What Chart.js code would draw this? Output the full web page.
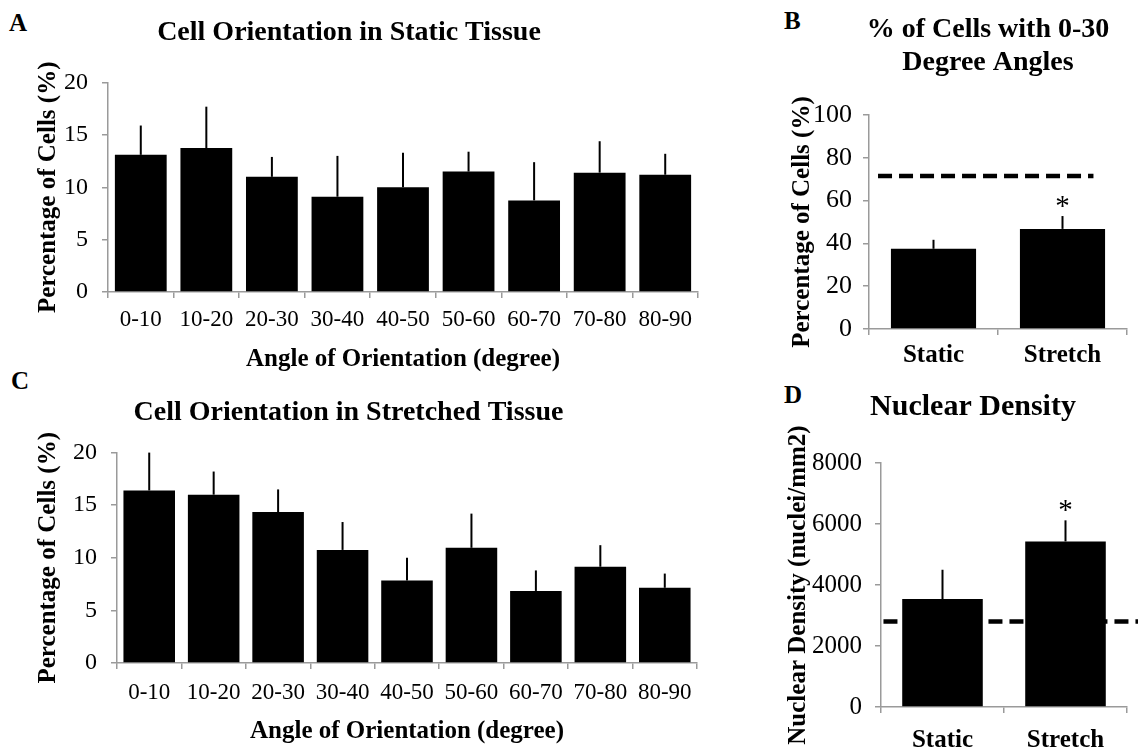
<!DOCTYPE html>
<html>
<head>
<meta charset="utf-8">
<script src="https://cdn.jsdelivr.net/npm/chart.js@4.4.1/dist/chart.umd.min.js"></script>
<style>
  html, body { margin: 0; padding: 0; background: #fff; }
  body { width: 1138px; height: 753px; overflow: hidden; position: relative; }
  canvas { position: absolute; }
  .letter { position: absolute; font-family: 'Liberation Serif', 'Times New Roman', serif; font-weight: bold; font-size: 25px; line-height: 1; color: #000; }
</style>
</head>
<body>
<div class="letter" style="left:9px;top:10px">A</div>
<div class="letter" style="left:784px;top:8px">B</div>
<div class="letter" style="left:11px;top:368px">C</div>
<div class="letter" style="left:784px;top:382px">D</div>

<canvas id="chartA" width="705" height="380" style="left:0;top:0"></canvas>
<canvas id="chartB" width="416" height="380" style="left:780px;top:0"></canvas>
<canvas id="chartC" width="705" height="373" style="left:0;top:380px"></canvas>
<canvas id="chartD" width="386" height="373" style="left:780px;top:380px"></canvas>

<script>
// 데이터
const angleBins = ['0-10', '10-20', '20-30', '30-40', '40-50', '50-60', '60-70', '70-80', '80-90'];
const staticPct = [13.1, 13.75, 11.0, 9.1, 10.0, 11.5, 8.75, 11.4, 11.2];
const staticPctErr = [2.8, 3.95, 1.9, 3.9, 3.3, 1.9, 3.65, 3.0, 2.0];
const stretchPct = [16.4, 16.0, 14.35, 10.75, 7.85, 10.95, 6.85, 9.15, 7.15];
const stretchPctErr = [3.6, 2.2, 2.15, 2.65, 2.15, 3.25, 1.95, 2.05, 1.35];

const groups = ['Static', 'Stretch'];
const lowAngle = [37.5, 46.8];
const lowAngleErr = [4.2, 6.0];
const lowAngleMarks = ['', '*'];
const lowAngleRef = 71.5;            // 점선 기준값
const lowAngleRefSpan = [-0.43, 1.24]; // 카테고리 단위

const density = [3540, 5430];
const densityErr = [960, 690];
const densityMarks = ['', '*'];
const densityRef = 2800;
const densityRefSpan = [-0.48, 1.6];

const pctTicks = [0, 5, 10, 15, 20];
const lowAngleTicks = [0, 20, 40, 60, 80, 100];
const densityTicks = [0, 2000, 4000, 6000, 8000];

const SERIF = "'Liberation Serif', 'Times New Roman', serif";
Chart.defaults.font.family = SERIF;
Chart.defaults.color = '#000';

// 에러바 + 별표
const errorBars = {
  id: 'errorBars',
  afterDatasetsDraw(chart) {
    const ctx = chart.ctx;
    const y = chart.scales.y;
    chart.data.datasets.forEach((ds, di) => {
      if (!ds.errors) return;
      chart.getDatasetMeta(di).data.forEach((bar, i) => {
        const top = y.getPixelForValue(ds.data[i] + ds.errors[i]);
        ctx.save();
        ctx.strokeStyle = '#000';
        ctx.lineWidth = 2;
        ctx.beginPath();
        ctx.moveTo(bar.x, bar.y);
        ctx.lineTo(bar.x, top);
        ctx.stroke();
        if (ds.marks && ds.marks[i]) {
          ctx.fillStyle = '#000';
          ctx.font = '29px ' + SERIF;
          ctx.textAlign = 'center';
          ctx.textBaseline = 'alphabetic';
          ctx.fillText(ds.marks[i], bar.x, top - 1);
        }
        ctx.restore();
      });
    });
  }
};

// 점선 (막대 뒤에)
const refLine = {
  id: 'refLine',
  beforeDatasetsDraw(chart, args, opts) {
    if (opts.value === undefined) return;
    const { ctx, scales: { x, y } } = chart;
    const py = y.getPixelForValue(opts.value);
    ctx.save();
    ctx.strokeStyle = '#000';
    ctx.lineWidth = 4.5;
    ctx.setLineDash([14, 7]);
    ctx.beginPath();
    ctx.moveTo(x.getPixelForValue(opts.span[0]), py);
    ctx.lineTo(x.getPixelForValue(opts.span[1]), py);
    ctx.stroke();
    ctx.restore();
  }
};

function makeChart(id, cfg) {
  const axisColor = '#9a9a9a';
  const scales = {
    x: {
      grid: { display: true, drawOnChartArea: false, drawTicks: true, tickLength: 6, color: axisColor, lineWidth: 1.5, offset: true },
      border: { color: axisColor, width: 1.5 },
      ticks: { font: cfg.xTickFont, padding: cfg.xTickPad, maxRotation: 0, autoSkip: false, color: '#000' },
      title: cfg.xTitle
        ? { display: true, text: cfg.xTitle, font: { size: 25, weight: 'bold', lineHeight: 1.2 }, padding: { top: 0, bottom: cfg.xTitlePad }, color: '#000' }
        : { display: false },
      afterFit: s => { s.height = cfg.xHeight; }
    },
    y: {
      min: cfg.yTicks[0],
      max: cfg.yTicks[cfg.yTicks.length - 1],
      afterBuildTicks: s => { s.ticks = cfg.yTicks.map(v => ({ value: v })); },
      grid: { display: true, drawOnChartArea: false, drawTicks: true, tickLength: 6, color: axisColor, lineWidth: 1.5 },
      border: { color: axisColor, width: 1.5 },
      ticks: { font: { size: cfg.yTickSize }, padding: cfg.yTickPad, color: '#000', callback: v => String(v) },
      title: { display: true, text: cfg.yTitle, font: { size: 25, weight: 'bold', lineHeight: 1.2 }, padding: { top: cfg.yTitlePad, bottom: 0 }, color: '#000' },
      afterFit: s => { s.width = cfg.yWidth; }
    }
  };
  if (cfg.rightSpace) {
    // 빈 오른쪽 축: 제목 가운데 위치 맞추기용
    scales.yr = {
      position: 'right',
      grid: { display: false },
      border: { display: false },
      ticks: { display: false },
      afterFit: s => { s.width = cfg.rightSpace; }
    };
  }
  return new Chart(document.getElementById(id), {
    type: 'bar',
    data: {
      labels: cfg.labels,
      datasets: [{
        data: cfg.values,
        errors: cfg.errors,
        marks: cfg.marks,
        backgroundColor: '#000',
        barPercentage: cfg.barPct,
        categoryPercentage: 1
      }]
    },
    options: {
      responsive: false,
      animation: false,
      layout: { padding: { left: 0, right: cfg.padRight, top: 0, bottom: 0 } },
      plugins: {
        legend: { display: false },
        tooltip: { enabled: false },
        title: {
          display: true,
          text: cfg.title,
          color: '#000',
          font: { size: cfg.titleSize, weight: 'bold', lineHeight: cfg.titleLH },
          padding: cfg.titlePad
        },
        refLine: cfg.ref !== undefined ? { value: cfg.ref, span: cfg.refSpan } : {}
      },
      scales
    },
    plugins: [refLine, errorBars]
  });
}

makeChart('chartA', {
  labels: angleBins, values: staticPct, errors: staticPctErr, barPct: 0.79,
  title: 'Cell Orientation in Static Tissue', titleSize: 28, titleLH: 1.2, titlePad: { top: 16, bottom: 33 },
  xTitle: 'Angle of Orientation (degree)', xTitlePad: 5, xHeight: 88, xTickFont: { size: 23 }, xTickPad: 8,
  yTitle: 'Percentage of Cells (%)', yTitlePad: 34, yWidth: 108, yTicks: pctTicks, yTickSize: 24, yTickPad: 14,
  padRight: 7
});

makeChart('chartC', {
  labels: angleBins, values: stretchPct, errors: stretchPctErr, barPct: 0.8,
  title: 'Cell Orientation in Stretched Tissue', titleSize: 28, titleLH: 1.2, titlePad: { top: 16, bottom: 23 },
  xTitle: 'Angle of Orientation (degree)', xTitlePad: 6, xHeight: 90, xTickFont: { size: 23 }, xTickPad: 10,
  yTitle: 'Percentage of Cells (%)', yTitlePad: 34, yWidth: 117, yTicks: pctTicks, yTickSize: 24, yTickPad: 14,
  padRight: 8
});

makeChart('chartB', {
  labels: groups, values: lowAngle, errors: lowAngleErr, marks: lowAngleMarks, barPct: 0.66,
  ref: lowAngleRef, refSpan: lowAngleRefSpan,
  title: ['% of Cells with 0-30', 'Degree Angles'], titleSize: 28, titleLH: 1.18, titlePad: { top: 13, bottom: 36 },
  xHeight: 51, xTickFont: { size: 25, weight: 'bold' }, xTickPad: 6,
  yTitle: 'Percentage of Cells (%)', yTitlePad: 8, yWidth: 89, yTicks: lowAngleTicks, yTickSize: 26, yTickPad: 11,
  padRight: 0, rightSpace: 69
});

makeChart('chartD', {
  labels: groups, values: density, errors: densityErr, marks: densityMarks, barPct: 0.655,
  ref: densityRef, refSpan: densityRefSpan,
  title: 'Nuclear Density', titleSize: 30, titleLH: 1.2, titlePad: { top: 9, bottom: 38 },
  xHeight: 46, xTickFont: { size: 25, weight: 'bold' }, xTickPad: 13,
  yTitle: 'Nuclear Density (nuclei/mm2)', yTitlePad: 4, yWidth: 101, yTicks: densityTicks, yTickSize: 25, yTickPad: 13,
  padRight: 0, rightSpace: 39
});
</script>
</body>
</html>
